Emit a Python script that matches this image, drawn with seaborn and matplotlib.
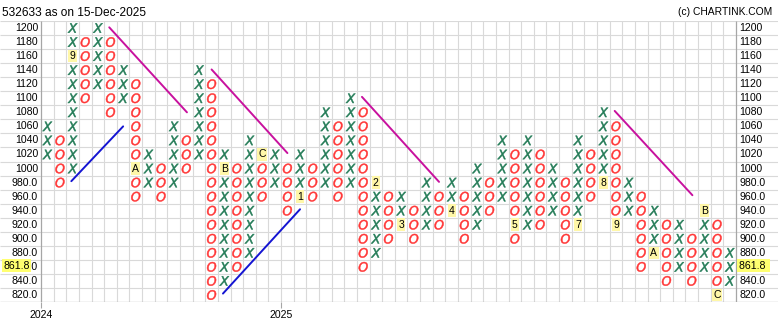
import numpy as np
import pandas as pd
import matplotlib
matplotlib.use("Agg")
import matplotlib.pyplot as plt
import seaborn as sns

# ---------------- data ----------------
box_size = 20
col_kind = ['X','O','X','O','X','O','X','O','X','O',
            'X','O','X','O','X','O','X','O','X','O',
            'X','O','X','O','X','O','X','O','X','O',
            'X','O','X','O','X','O','X','O','X','O',
            'X','O','X','O','X','O','X','O','X','O',
            'X','O','X','O','X']
col_low = [1020, 980, 1000, 1100, 1120, 1080, 1100, 960, 980, 960,
           980, 1000, 1020, 820, 840, 860, 880, 960, 980, 940,
           960, 960, 980, 960, 980, 860, 880, 900, 920, 900,
           920, 920, 940, 900, 920, 940, 960, 900, 920, 920,
           940, 900, 920, 960, 980, 920, 940, 860, 880, 840,
           860, 840, 860, 820, 840]
col_high = [1060, 1040, 1200, 1180, 1200, 1180, 1140, 1120, 1020, 1000,
            1060, 1040, 1140, 1120, 1020, 1000, 1040, 1020, 1020, 1000,
            1020, 1000, 1080, 1060, 1100, 1080, 980, 960, 960, 940,
            980, 960, 980, 960, 1000, 980, 1040, 1020, 1040, 1020,
            1000, 980, 1040, 1020, 1080, 1060, 980, 960, 940, 920,
            920, 900, 940, 920, 880]

month_col = [2, 7, 14, 17, 20, 26, 28, 32, 37, 42, 44, 45, 48, 52, 53]
month_price = [1160, 1000, 1000, 1020, 960, 980, 920, 940, 920, 920, 980, 920, 880, 940, 820]
month_text = ['9', 'A', 'B', 'C', '1', '2', '3', '4', '5', '7', '8', '9', 'A', 'B', 'C']

price_levels = [1200, 1180, 1160, 1140, 1120, 1100, 1080, 1060, 1040, 1020,
                1000, 980, 960, 940, 920, 900, 880, 860, 840, 820]
price_labels = ['1200', '1180', '1160', '1140', '1120', '1100', '1080', '1060', '1040', '1020',
                '1000', '980.0', '960.0', '940.0', '920.0', '900.0', '880.0', '860.0', '840.0', '820.0']
last_price = 861.8
last_price_label = '861.8'

year_tick_pos = [-0.5, 18.5]
year_tick_labels = ['2024', '2025']

down_x0 = [4.9, 13.0, 24.9, 44.9]
down_y0 = [1201, 1141, 1102, 1082]
down_x1 = [11.05, 19.0, 31.0, 51.05]
down_y1 = [1080, 1022, 981, 962]
up_x0 = [1.9, 13.9]
up_y0 = [982, 822]
up_x1 = [6.0, 20.0]
up_y1 = [1060, 942]

title = '532633 as on 15-Dec-2025'
credit = '(c) CHARTINK.COM'

# ---------------- styling ----------------
sns.set_style("white")
plt.rcParams['font.family'] = ['Liberation Sans', 'DejaVu Sans']

X_COLOR = '#217a55'
O_COLOR = '#ff3535'
GRID = '#d9d9d9'
AXIS = '#a6a6a6'
W_PX = 695 / 55.0
L_PX = 41.0


def xd(px):
    return (px - L_PX) / W_PX - 0.5


# build box table
month_cells = set(zip(month_col, month_price))
rows = []
for i, (k, lo, hi) in enumerate(zip(col_kind, col_low, col_high)):
    for p in range(lo, hi + box_size, box_size):
        if (i, p) not in month_cells:
            rows.append({'col': i, 'price': p, 'kind': k})
df = pd.DataFrame(rows)

fig = plt.figure(figsize=(7.78, 3.30), dpi=100)
ax = fig.add_axes([0, 28 / 330, 1, 281 / 330])
ax.set_xlim(xd(0), xd(778))
ax.set_ylim(810, 1210)
for s in ax.spines.values():
    s.set_visible(False)

# grid
ncol = len(col_kind)
ax.vlines(np.arange(1, ncol) - 0.5, 810, 1210, color=GRID, lw=0.8, zorder=1)
ax.vlines([-0.5, ncol - 0.5], 810, 1210, color=AXIS, lw=0.9, zorder=2)
hl = np.arange(830, 1211, box_size)
ax.hlines(hl, xd(0), xd(778), color=GRID, lw=0.8, zorder=1)
ax.hlines([810], xd(0), xd(778), color=AXIS, lw=0.9, zorder=2)

# boxes
sns.scatterplot(data=df, x='col', y='price', hue='kind', style='kind',
                markers={'X': r'$\mathit{X}$', 'O': r'$\mathit{O}$'},
                palette={'X': X_COLOR, 'O': O_COLOR},
                s=48, linewidth=0.35, legend=False, ax=ax, zorder=4)
for coll in ax.collections[-1:]:
    coll.set_edgecolor(coll.get_facecolor())

# month markers
for c, p, t in zip(month_col, month_price, month_text):
    ax.text(c, p, t, ha='center', va='center', fontsize=7.5, color='black', zorder=5,
            bbox=dict(boxstyle='square,pad=0.12', facecolor='#fff7a8', edgecolor='none'))

# trend lines
for x0, y0, x1, y1 in zip(down_x0, down_y0, down_x1, down_y1):
    sns.lineplot(x=[x0, x1], y=[y0, y1], color='#c8119e', lw=1.4, ax=ax, zorder=3)
for x0, y0, x1, y1 in zip(up_x0, up_y0, up_x1, up_y1):
    sns.lineplot(x=[x0, x1], y=[y0, y1], color='#1414d2', lw=1.4, ax=ax, zorder=3)

# price labels
for p, lab in zip(price_levels, price_labels):
    ax.text(xd(38), p, lab, ha='right', va='center', fontsize=7.6, color='black')
    if abs(p - last_price) > box_size / 2:
        ax.text(xd(739), p, lab, ha='left', va='center', fontsize=7.6, color='black')
ax.text(xd(3.5), last_price, last_price_label, ha='left', va='center', fontsize=7.6,
        color='black', zorder=6,
        bbox=dict(boxstyle='square,pad=0.15', facecolor='#ffff70', edgecolor='none'))
ax.text(xd(739), last_price, last_price_label + ' ', ha='left', va='center', fontsize=7.6,
        color='black', zorder=6,
        bbox=dict(boxstyle='square,pad=0.15', facecolor='#ffff70', edgecolor='none'))

# x ticks
ax.set_xticks(year_tick_pos, year_tick_labels)
ax.set_yticks([])
ax.tick_params(axis='x', length=4, width=0.8, color=AXIS, labelsize=7.6, pad=1.5,
               bottom=True, labelcolor='black')
ax.set_xlabel('')
ax.set_ylabel('')

fig.text(2 / 778, 1 - 13 / 330, title, ha='left', va='center', fontsize=8.6, color='black')
fig.text(772 / 778, 1 - 12 / 330, credit, ha='right', va='center', fontsize=7.4, color='black')

fig.savefig('out.png', dpi=100)
